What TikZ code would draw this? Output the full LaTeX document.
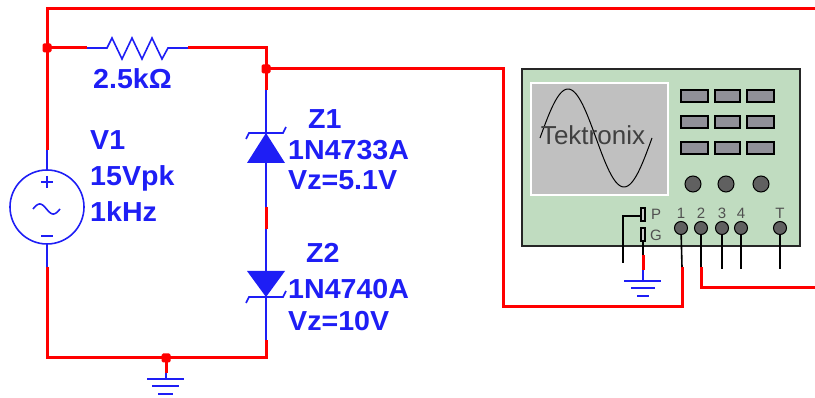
\documentclass[tikz,border=0pt]{standalone}
\usepackage{fontspec}
\setmainfont{Liberation Sans}
\newfontfamily\lblfont[FakeStretch=1.04]{Liberation Sans}
\definecolor{wirered}{RGB}{255,0,0}
\definecolor{partblue}{RGB}{30,30,245}
\definecolor{scopegreen}{RGB}{192,220,192}
\definecolor{screengray}{RGB}{192,192,192}
\definecolor{btngray}{RGB}{144,144,152}
\definecolor{knobgray}{RGB}{96,96,96}
\definecolor{inkgray}{RGB}{80,80,80}
\begin{document}
\begin{tikzpicture}[x=1pt,y=-1pt,
  wire/.style={draw=wirered,line width=3pt},
  part/.style={draw=partblue,line width=1.6pt},
  lead/.style={draw=black,line width=1.6pt},
  junc/.style={fill=wirered,draw=none,minimum size=9pt,inner sep=0pt,rounded corners=1.5pt},
  lbl/.style={text=partblue,font=\lblfont\fontsize{27.5}{27.5}\selectfont\bfseries,anchor=west,inner sep=0pt},
  tlbl/.style={text=inkgray,font=\fontsize{15}{15}\selectfont,inner sep=0pt},
  btn/.style={fill=btngray,draw=black,line width=1.2pt},
  knob/.style={circle,fill=knobgray,draw=black,line width=1pt,minimum size=16pt,inner sep=0pt},
  term/.style={circle,fill=knobgray,draw=black,line width=1pt,minimum size=13pt,inner sep=0pt}
]
\useasboundingbox (0,0) rectangle (815,398);

% ---- corner points of the wiring ----
\coordinate (tl) at (47,9);
\coordinate (tr) at (815,9);
\coordinate (vsTop) at (47,150);
\coordinate (srcTop) at (47,170);
\coordinate (srcBot) at (47,245);
\coordinate (vsBot) at (47,267);
\coordinate (bl) at (47,358);
\coordinate (br) at (266,358);
\coordinate (rA) at (87,48);
\coordinate (rB) at (107,48);
\coordinate (rC) at (168,48);
\coordinate (rD) at (188,48);
\coordinate (rr) at (266,48);
\coordinate (zTop) at (266,90);
\coordinate (z1k) at (266,133);
\coordinate (z1a) at (266,163);
\coordinate (mA) at (266,207);
\coordinate (mB) at (266,229);
\coordinate (z2a) at (266,271);
\coordinate (z2k) at (266,297);
\coordinate (zBot) at (266,340);
\coordinate (pTop) at (503,69);
\coordinate (pBot) at (503,307);
\coordinate (c1Bot) at (682,307);
\coordinate (c1Mid) at (682,267);
\coordinate (c2Mid) at (701,267);
\coordinate (c2Bend) at (701,288);
\coordinate (c2End) at (815,288);
\coordinate (gStub) at (166,373);
\coordinate (gTop) at (166,379);

% ---- source V1 ----
\draw[part] (47,207) circle[radius=37];
\draw[part] (srcTop) -- (vsTop);
\draw[part] (srcBot) -- (vsBot);
\draw[part] (41,182) -- (53,182) (47,176) -- (47,188);
\draw[part] (41,236) -- (53,236);
\draw[part] plot[domain=0:360,samples=40] ({33+\x/360*27},{209-5*sin(\x)});

% ---- resistor ----
\draw[part] (rA) -- (rB) -- (112,38) -- (122,59) -- (132,38) -- (142,59) -- (152,38) -- (162,59) -- (rC) -- (rD);

% ---- zener diodes ----
\draw[part] (zTop) -- (z1k);
\draw[part] (z1a) -- (mA);
\draw[part] (mB) -- (z2a);
\draw[part] (z2k) -- (zBot);
\fill[partblue] (z1k) -- (285,163) -- (247,163) -- cycle;
\draw[part] (246,139) -- (249,133) -- (283,133) -- (286,127);
\fill[partblue] (z2k) -- (285,271) -- (247,271) -- cycle;
\draw[part] (246,303) -- (249,297) -- (283,297) -- (286,291);

% ---- ground symbols ----
\draw[part] (gStub) -- (gTop);
\draw[part] (147,379) -- (184,379) (152,386) -- (179,386) (158,394) -- (173,394);

% ---- red wires ----
\draw[wire] (tr) -- (tl) -- (vsTop);
\draw[wire] (vsBot) -- (bl) -- (br) -- (zBot);
\draw[wire] (mA) -- (mB);
\draw[wire] (47,48) -- (rA);
\draw[wire] (rD) -- (rr) -- (zTop);
\draw[wire] (266,69) -- (pTop) -- (pBot) -- (c1Bot) -- (c1Mid);
\draw[wire] (c2End) -- (c2Bend) -- (c2Mid);
\draw[wire] (166,358) -- (gStub);

% ---- junction dots ----
\node[junc] (jA) at (47,48) {};
\node[junc] (jB) at (266,69) {};
\node[junc] (jC) at (166,358) {};

% ---- labels ----
\node[lbl] (lr) at (93,79) {2.5kΩ};
\node[lbl] (lv1) at (90,140) {V1};
\node[lbl] (lv2) at (90,178) {15Vpk};
\node[lbl] (lv3) at (90,212) {1kHz};
\node[lbl] (lz1) at (308,119) {Z1};
\node[lbl] (lz1b) at (288,150) {1N4733A};
\node[lbl] (lz1c) at (288,180) {Vz=5.1V};
\node[lbl] (lz2) at (306,253) {Z2};
\node[lbl] (lz2b) at (288,289) {1N4740A};
\node[lbl] (lz2c) at (288,321) {Vz=10V};

% ---- oscilloscope ----
\draw[fill=scopegreen,draw=black!85,line width=2pt] (522,69) rectangle (800,246);
\draw[fill=screengray,draw=white,line width=1.5pt] (531,83) rectangle (668,195);
\draw[black,line width=1pt] plot[domain=0:360,samples=72] ({540+\x/360*112},{138-49*sin(\x)});
\node[text=black!75,font=\fontsize{26}{26}\selectfont,inner sep=0pt] (brand) at (593,135) {Tektronix};
\foreach \r in {90,116,142}{
  \draw[btn] (681,\r) rectangle (708,\r+12);
  \draw[btn] (715,\r) rectangle (740,\r+12);
  \draw[btn] (747,\r) rectangle (774,\r+12);
}
\node[knob] (k1) at (693,184) {};
\node[knob] (k2) at (726,184) {};
\node[knob] (k3) at (761,184) {};

% probe and ground sockets
\draw[fill=white!80!black,draw=black,line width=1.2pt] (641,208) rectangle (645,221);
\draw[fill=white!80!black,draw=black,line width=1.2pt] (641,228) rectangle (645,241);
\node[tlbl] (lp) at (656,214) {P};
\node[tlbl] (lg) at (656,235) {G};
\coordinate (pL) at (623,216);
\coordinate (pEnd) at (623,263);
\draw[lead] (641,216) -- (pL) -- (pEnd);
\coordinate (gRed) at (643,255);
\coordinate (gRedEnd) at (643,270);
\coordinate (gGnd) at (643,281);
\draw[lead] (643,241) -- (gRed);
\draw[wire] (gRed) -- (gRedEnd);
\draw[part] (gRedEnd) -- (gGnd);
\draw[part] (624,281) -- (661,281) (631,288) -- (655,288) (637,296) -- (649,296);

% channel terminals
\draw[lead] (681,228) -- (c1Mid);
\draw[lead] (701,228) -- (c2Mid);
\draw[lead] (722,228) -- (722,269);
\draw[lead] (741,228) -- (741,269);
\draw[lead] (780,228) -- (780,269);
\node[term] (t1) at (681,228) {};
\node[term] (t2) at (701,228) {};
\node[term] (t3) at (722,228) {};
\node[term] (t4) at (741,228) {};
\node[term] (tT) at (780,228) {};
\node[tlbl] at (681,213) {1};
\node[tlbl] at (701,213) {2};
\node[tlbl] at (722,213) {3};
\node[tlbl] at (741,213) {4};
\node[tlbl] at (780,213) {T};
\end{tikzpicture}
\end{document}
